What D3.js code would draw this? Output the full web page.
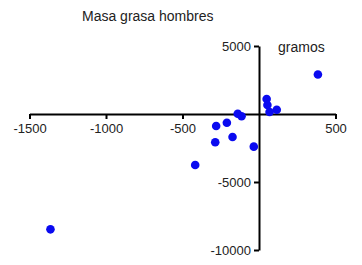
<!DOCTYPE html>
<html>
<head>
<meta charset="utf-8">
<script src="https://cdn.jsdelivr.net/npm/d3@7"></script>
<style>
  body { margin: 0; background: #fff; }
  text { font-family: "Liberation Sans", Arial, sans-serif; }
</style>
</head>
<body>
<div id="chart"></div>
<script>
// values
var xVals = [385, 50, 55, 116, 69, -139, -114, -280, -210, -286, -173, -34, -417, -1363];
var yVals = [2900, 1100, 660, 316, 147, 15, -162, -880, -640, -2080, -1690, -2400, -3750, -8480];
var xTicks = [-1500, -1000, -500, 500];
var yTicks = [5000, -5000, -10000];

var width = 362, height = 265;

var svg = d3.select("#chart")
  .append("svg")
  .attr("width", width)
  .attr("height", height);

var x = d3.scaleLinear()
  .domain([-1500, 500])
  .range([29.5, 335.5]);

var y = d3.scaleLinear()
  .domain([-10000, 5000])
  .range([250, 46]);

var fmt = function (d) { return String(d); };

// X axis through y = 0
var gx = svg.append("g")
  .attr("transform", "translate(0," + y(0) + ")")
  .call(d3.axisBottom(x).tickValues(xTicks).tickFormat(fmt).tickSize(5).tickSizeOuter(0).tickPadding(5));

// Y axis through x = 0
var gy = svg.append("g")
  .attr("transform", "translate(" + x(0) + ",0)")
  .call(d3.axisLeft(y).tickValues(yTicks).tickFormat(fmt).tickSize(5).tickSizeOuter(0).tickPadding(3));

svg.selectAll(".domain").attr("stroke", "#000").attr("stroke-width", 2);
svg.selectAll(".tick line").attr("stroke", "#000").attr("stroke-width", 2);
svg.selectAll(".tick text")
  .attr("fill", "#222")
  .style("font-size", "13px")
  .style("font-family", "'Liberation Sans', Arial, sans-serif");
gy.selectAll(".tick text").attr("dy", "0.35em");

// titles
svg.append("text")
  .attr("x", 82)
  .attr("y", 21)
  .style("font-size", "14px")
  .attr("fill", "#222")
  .text("Masa grasa hombres");

svg.append("text")
  .attr("x", 278)
  .attr("y", 52)
  .style("font-size", "14px")
  .attr("fill", "#222")
  .text("gramos");

// dots
svg.append("g")
  .selectAll("circle")
  .data(xVals)
  .enter()
  .append("circle")
    .attr("cx", function (d) { return x(d); })
    .attr("cy", function (d, i) { return y(yVals[i]); })
    .attr("r", 4.3)
    .style("fill", "#0a0af0");
</script>
</body>
</html>
